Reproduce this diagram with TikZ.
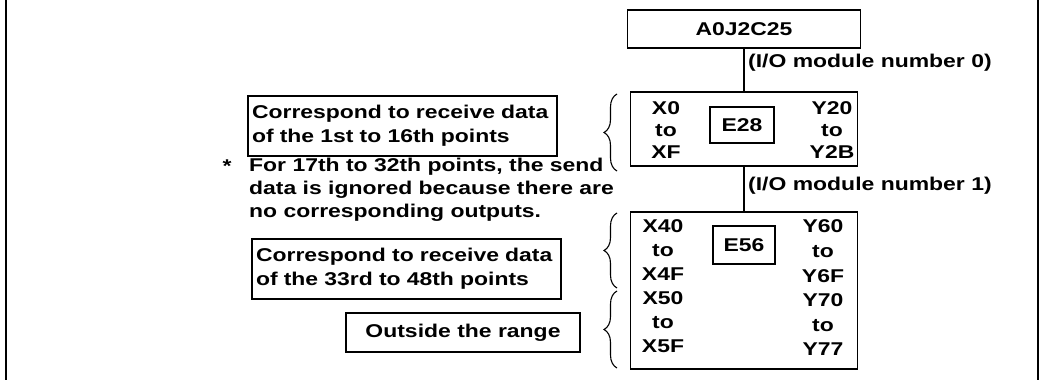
\documentclass[tikz,border=0pt]{standalone}
\usepackage{fontspec}
\newfontfamily\dfont[FakeStretch=1.24]{Liberation Sans Bold}
\usetikzlibrary{decorations.pathreplacing}
\begin{document}
\begin{tikzpicture}[x=1pt,y=-1pt,
  every node/.style={font=\dfont\fontsize{18.5}{22}\selectfont, inner sep=0pt},
  box/.style={draw, line width=1.6pt},
  lbox/.style={box, text width=301pt, inner xsep=4pt, minimum height=60pt, align=left, font=\dfont\fontsize{18.5}{24}\selectfont},
  col/.style={align=center},
  conn/.style={line width=1.2pt},
  brc/.style={line width=1.1pt, decorate, decoration={brace, amplitude=13pt}},
  frame/.style={line width=2.6pt}]
\useasboundingbox (0,0) rectangle (1043,380);
% outer side rules
\coordinate (fl1) at (6,0); \coordinate (fl2) at (6,380);
\coordinate (fr1) at (1038,0); \coordinate (fr2) at (1038,380);
\draw[frame] (fl1) -- (fl2);
\draw[frame] (fr1) -- (fr2);
% main column
\node[box, minimum width=233pt, minimum height=38pt] (top) at (744,29) {A0J2C25};
\node[box, minimum width=227pt, minimum height=74pt] (e28) at (744,129) {};
\node[box, minimum width=227pt, minimum height=157pt] (e56) at (744,290.5) {};
\node[box, minimum width=64pt, minimum height=36pt] (e28i) at (742,125) {E28};
\node[box, minimum width=62pt, minimum height=38pt] (e56i) at (744,245) {E56};
\draw[conn] (top.south) -- (e28.north);
\draw[conn] (e28.south) -- (e56.north);
\node[anchor=west] (m0) at (748,63) {(I/O module number 0)};
\node[anchor=west] (m1) at (748,186) {(I/O module number 1)};
% columns
\node[col, font=\dfont\fontsize{18.5}{22}\selectfont] (x0) at (666,130) {X0\\to\\XF};
\node[col, font=\dfont\fontsize{18.5}{22}\selectfont] (y20) at (832,130) {Y20\\to\\Y2B};
\node[col, font=\dfont\fontsize{18.5}{24}\selectfont] (x40) at (663,286) {X40\\to\\X4F\\X50\\to\\X5F};
\node[col, font=\dfont\fontsize{18.5}{24.6}\selectfont] (y60) at (823,288) {Y60\\to\\Y6F\\Y70\\to\\Y77};
% braces
\coordinate (b1a) at (617,171); \coordinate (b1b) at (617,94);
\coordinate (b2a) at (617,288); \coordinate (b2b) at (617,213);
\coordinate (b3a) at (617,368); \coordinate (b3b) at (617,291);
\draw[brc] (b1a) -- (b1b);
\draw[brc] (b2a) -- (b2b);
\draw[brc] (b3a) -- (b3b);
% left notes
\node[lbox] (n1) at (402.5,126) {Correspond to receive data\\of the 1st to 16th points};
\node[lbox] (n2) at (406.5,269) {Correspond to receive data\\of the 33rd to 48th points};
\node[box, minimum width=234pt, minimum height=39pt] (n3) at (463,332.5) {Outside the range};
\node[anchor=north] (star) at (227,160) {*};
\node[anchor=north west, align=left, font=\dfont\fontsize{18.5}{23}\selectfont] (fn) at (249,158)
  {For 17th to 32th points, the send\\data is ignored because there are\\no corresponding outputs.};
\end{tikzpicture}
\end{document}
